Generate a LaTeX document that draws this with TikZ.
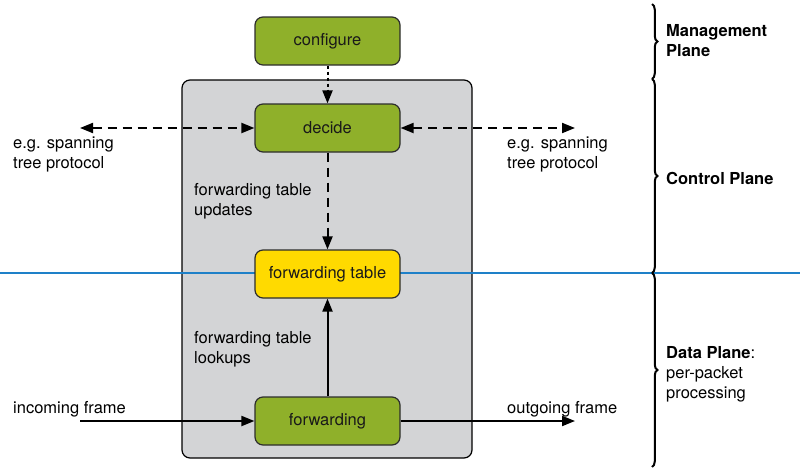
\documentclass[tikz,border=0pt]{standalone}
\usepackage{fontspec}
\setmainfont{TeX Gyre Heros}
\usetikzlibrary{arrows.meta,decorations.pathreplacing}
\definecolor{boxgreen}{RGB}{143,176,42}
\definecolor{boxyellow}{RGB}{255,218,0}
\definecolor{panelgray}{RGB}{211,212,214}
\definecolor{planeblue}{RGB}{30,128,200}
\definecolor{edgegray}{RGB}{45,45,45}
\tikzset{
  box/.style={draw=edgegray, line width=1.2pt, rounded corners=8pt, minimum width=145pt, minimum height=48pt, inner sep=0pt, font=\fontsize{16.5}{20}\selectfont, text=black!90},
  gbox/.style={box, fill=boxgreen},
  ybox/.style={box, fill=boxyellow},
  lbl/.style={anchor=north west, align=left, inner sep=0pt, font=\fontsize{16.5}{20}\selectfont},
  conn/.style={line width=2pt, -{Triangle[length=13pt,width=10pt]}},
  dconn/.style={conn, dash pattern=on 9pt off 6pt},
  ddconn/.style={dconn, {Triangle[length=13pt,width=10pt]}-{Triangle[length=13pt,width=10pt]}},
  brc/.style={decorate, decoration={brace, amplitude=5.5pt}, line width=2pt},
}
\begin{document}
\begin{tikzpicture}[x=1pt,y=-1pt]
\useasboundingbox (0,0) rectangle (800,471);
% panel
\draw[fill=panelgray, line width=1.2pt, rounded corners=8pt] (182,80) rectangle (472,458);
% blue line
\draw[planeblue, line width=2pt] (0,273) -- (800,273);
% boxes
\node[gbox] (configure) at (327.5,41) {configure};
\node[gbox] (decide) at (327.5,128) {decide};
\node[ybox] (ftable) at (327.5,274) {forwarding table};
\node[gbox] (fwd) at (327.5,421) {forwarding};
% free ends
\coordinate (stpL) at (80,128);
\coordinate (stpR) at (575,128);
\coordinate (inL) at (80,421);
\coordinate (outR) at (575,421);
% connectors
\draw[conn, dash pattern=on 3pt off 3pt] (configure) -- (decide);
\draw[ddconn] (stpL) -- (decide);
\draw[ddconn] (decide) -- (stpR);
\draw[dconn] (decide) -- (ftable);
\draw[conn] (fwd) -- (ftable);
\draw[conn] (inL) -- (fwd);
\draw[conn] (fwd) -- (outR);
% labels
\node[lbl] (l1) at (13,137) {e.g. spanning\\tree protocol};
\node[lbl] (l2) at (507,137) {e.g. spanning\\tree protocol};
\node[lbl] (l3) at (194,183) {forwarding table\\updates};
\node[lbl] (l4) at (194,331) {forwarding table\\lookups};
\node[lbl] (l5) at (13,401) {incoming frame};
\node[lbl] (l6) at (507,401) {outgoing frame};
% braces
\draw[brc] (652,4) -- (652,79);
\draw[brc] (652,79) -- (652,273);
\draw[brc] (652,273) -- (652,467);
\node[lbl] (m1) at (666,24) {\bfseries Management\\\bfseries Plane};
\node[lbl] (m2) at (666,172) {\bfseries Control Plane};
\node[lbl] (m3) at (666,346) {\textbf{Data Plane}:\\per-packet\\processing};
\end{tikzpicture}
\end{document}
